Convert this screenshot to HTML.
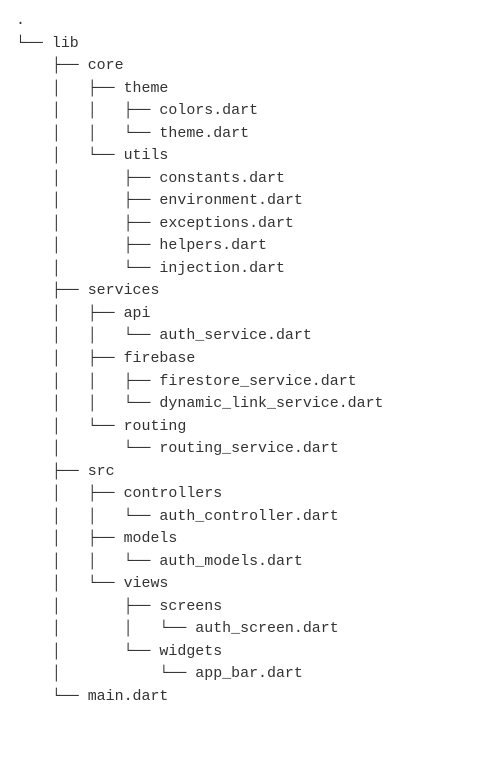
<!DOCTYPE html>
<html><head><style>
html,body{margin:0;padding:0;background:#fff;width:480px;height:774px;overflow:hidden}
pre{position:absolute;left:16px;top:10px;margin:0;font-family:"Liberation Mono","DejaVu Sans Mono",monospace;font-size:14.95px;line-height:22.53px;color:#333}
</style></head><body>
<pre>.
└── lib
    ├── core
    │   ├── theme
    │   │   ├── colors.dart
    │   │   └── theme.dart
    │   └── utils
    │       ├── constants.dart
    │       ├── environment.dart
    │       ├── exceptions.dart
    │       ├── helpers.dart
    │       └── injection.dart
    ├── services
    │   ├── api
    │   │   └── auth_service.dart
    │   ├── firebase
    │   │   ├── firestore_service.dart
    │   │   └── dynamic_link_service.dart
    │   └── routing
    │       └── routing_service.dart
    ├── src
    │   ├── controllers
    │   │   └── auth_controller.dart
    │   ├── models
    │   │   └── auth_models.dart
    │   └── views
    │       ├── screens
    │       │   └── auth_screen.dart
    │       └── widgets
    │           └── app_bar.dart
    └── main.dart</pre>
</body></html>
